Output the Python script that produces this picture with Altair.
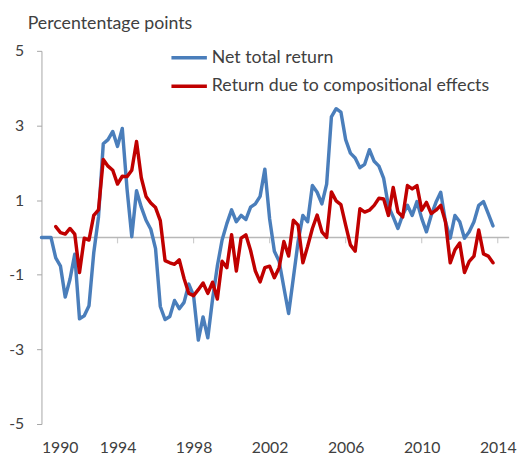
import altair as alt
import pandas as pd

# ---- data (quarterly) ----
net_start = 1990.0
comp_start = 1990.75

net_total_return = [
    0.0, 0.0, 0.0, -0.55,
    -0.77, -1.6, -1.12, -0.45,
    -2.18, -2.1, -1.83, -0.41,
    0.55, 2.51, 2.62, 2.84,
    2.44, 2.92, 1.3, 0.02,
    1.25, 0.81, 0.46, 0.22,
    -0.3, -1.85, -2.2, -2.12,
    -1.69, -1.91, -1.74, -1.25,
    -1.56, -2.75, -2.13, -2.69,
    -1.65, -0.77, -0.07, 0.37,
    0.74, 0.42, 0.59, 0.48,
    0.81, 0.9, 1.1, 1.83,
    0.5, -0.37, -0.64, -1.34,
    -2.04, -1.08, -0.11, 0.59,
    0.42, 1.39, 1.21, 0.9,
    1.43, 3.23, 3.45, 3.36,
    2.62, 2.26, 2.13, 1.87,
    1.96, 2.35, 2.04, 1.91,
    1.58, 0.84, 0.55, 0.24,
    0.6, 0.86, 0.59, 0.96,
    0.51, 0.15, 0.59, 0.94,
    1.21, 0.42, -0.02, 0.59,
    0.42, -0.02, 0.15, 0.42,
    0.86, 0.96, 0.64, 0.31,
]

compositional_effects = [
    0.29,
    0.13, 0.09, 0.24, 0.09,
    -0.94, -0.02, -0.07, 0.59,
    0.74, 2.09, 1.91, 1.8,
    1.43, 1.64, 1.63, 1.8,
    2.57, 1.6, 1.1, 0.92,
    0.8, 0.45, -0.62, -0.68,
    -0.72, -0.6, -1.1, -1.5,
    -1.56, -1.4, -1.22, -1.5,
    -1.2, -1.65, -0.64, -0.81,
    0.07, -0.9, -0.02, 0.07,
    -0.35, -0.9, -1.19, -0.81,
    -0.77, -1.08, -0.81, -0.11,
    -0.5, 0.46, 0.33, -0.68,
    -0.24, 0.24, 0.6, 0.15,
    0.0, 1.22, 0.98, 0.88,
    0.33, -0.2, -0.37, 0.77,
    0.68, 0.73, 0.86, 1.05,
    1.03, 0.59, 1.34, 0.68,
    0.55, 1.39, 1.3, 1.39,
    0.73, 0.94, 0.64, 0.73,
    0.86, 0.42, -0.68, -0.33,
    -0.15, -0.94, -0.64, -0.5,
    0.2, -0.44, -0.5, -0.68,
]

series_names = ["Net total return", "Return due to compositional effects"]
series_colors = ["#4A7EBB", "#C00000"]
x_tick_years = [1990, 1994, 1998, 2002, 2006, 2010, 2014]
y_tick_values = [-5, -3, -1, 1, 3, 5]
x_domain = [1990, 2014.6]
y_domain = [-5, 5]
y_title = "Percententage points"

rows = []
for i, v in enumerate(net_total_return):
    rows.append({"t": net_start + i / 4, "v": v, "s": series_names[0]})
for i, v in enumerate(compositional_effects):
    rows.append({"t": comp_start + i / 4, "v": v, "s": series_names[1]})
df = pd.DataFrame(rows)

FONT = "Lato"
TXT = "#404040"

xscale = alt.Scale(domain=x_domain, nice=False, zero=False)
yscale = alt.Scale(domain=y_domain, nice=False)

zero_line = alt.Chart(pd.DataFrame({"a": [x_domain[0]], "b": [x_domain[1]], "y": [0]})).mark_rule(
    color="#b8b8b8", strokeWidth=1.5
).encode(
    x=alt.X("a:Q", scale=xscale),
    x2="b:Q",
    y=alt.Y("y:Q", scale=yscale),
)

zero_ticks = alt.Chart(pd.DataFrame({"t": x_tick_years[1:], "y": [0] * (len(x_tick_years) - 1)})).mark_tick(
    color="#b8b8b8", thickness=1.2, size=6, yOffset=3, orient="vertical"
).encode(
    x=alt.X("t:Q", scale=xscale),
    y=alt.Y("y:Q", scale=yscale),
)

lines = alt.Chart(df).mark_line(strokeWidth=3.5, strokeJoin="round", strokeCap="round").encode(
    x=alt.X(
        "t:Q",
        scale=xscale,
        title=None,
        axis=alt.Axis(
            values=x_tick_years, format="d", grid=False, domain=False, ticks=False,
            tickSize=0, labelPadding=29, labelBaseline="alphabetic",
            labelFontSize=16, labelFont=FONT, labelColor=TXT,
        ),
    ),
    y=alt.Y(
        "v:Q",
        scale=yscale,
        title=None,
        axis=alt.Axis(
            values=y_tick_values, grid=False, domainColor="#a6a6a6", tickColor="#a6a6a6",
            tickSize=5, labelPadding=13, labelFontSize=16, labelFont=FONT, labelColor=TXT,
            labelExpr="'' + datum.value",
        ),
    ),
    color=alt.Color(
        "s:N",
        scale=alt.Scale(domain=series_names, range=series_colors),
        legend=alt.Legend(
            title=None, orient="none", legendX=130, legendY=-13, padding=0,
            symbolType="stroke", symbolSize=1296, symbolStrokeWidth=3.5,
            labelFontSize=18, labelFont=FONT, labelColor=TXT, labelOffset=3,
            rowPadding=-11, labelLimit=400,
        ),
    ),
    order="t:Q",
)

title_text = alt.Chart(pd.DataFrame({"label": [y_title]})).mark_text(
    align="left", baseline="alphabetic", fontSize=18, font=FONT, color=TXT
).encode(
    x=alt.value(-14), y=alt.value(-22), text="label:N"
)

chart = alt.layer(zero_line, zero_ticks, lines, title_text).properties(
    width=475,
    height=379,
    padding={"left": 34, "top": 40, "right": 10, "bottom": 31},
    autosize=alt.AutoSizeParams(type="none"),
).configure_view(strokeWidth=0)

chart.save("out.html", embed_options={"renderer": "svg", "actions": False})
